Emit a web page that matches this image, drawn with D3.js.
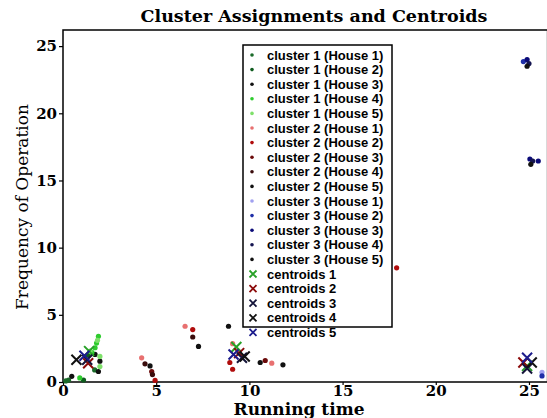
<!DOCTYPE html>
<html>
<head>
<meta charset="utf-8">
<script src="https://cdn.jsdelivr.net/npm/d3@7"></script>
<style>
  body { margin: 0; background: #fff; }
</style>
</head>
<body>
<div id="chart"></div>
<script>
// Tick values
const xTicks = [0, 5, 10, 15, 20, 25];
const yTicks = [0, 5, 10, 15, 20, 25];

// Cluster points per house, [running time, frequency]
const c1h1 = [[0.15, 0.08], [0.3, 0.15], [1.7, 0.9]];
const c1h2 = [[1.1, 0.15], [1.35, 2.0]];
const c1h3 = [[0.47, 0.42], [1.72, 2.05], [1.98, 1.55], [1.9, 0.78]];
const c1h4 = [[1.9, 3.4], [1.8, 2.9], [1.72, 2.55], [0.9, 0.3], [1.55, 2.2]];
const c1h5 = [[1.45, 2.3], [1.98, 1.9], [1.98, 1.15], [1.85, 3.1]];
const c2h1 = [[4.22, 1.8], [6.55, 4.15], [11.2, 1.4], [9.1, 2.85]];
const c2h2 = [[6.96, 3.9], [4.94, 0.12], [8.95, 1.45], [9.1, 0.95], [17.9, 8.5]];
const c2h3 = [[10.85, 1.6], [4.76, 0.78]];
const c2h4 = [[4.4, 1.35], [6.96, 3.35], [4.8, 0.55]];
const c2h5 = [[4.67, 1.2], [7.27, 2.65], [10.58, 1.45], [11.8, 1.28], [8.88, 4.15]];
const c3h1 = [[25.7, 0.72]];
const c3h2 = [[24.7, 23.85], [25.7, 0.45]];
const c3h3 = [[24.9, 24.0], [25.05, 16.6], [25.5, 16.45]];
const c3h4 = [[25.0, 23.7], [25.2, 16.45]];
const c3h5 = [[24.9, 23.5], [25.1, 16.2]];

// Centroids per house
const cen1 = [[1.4, 2.3], [9.3, 2.6], [24.9, 1.2]];
const cen2 = [[1.35, 1.4], [9.45, 2.15], [24.7, 1.45]];
const cen3 = [[1.3, 1.65], [9.6, 1.8], [24.9, 1.0]];
const cen4 = [[0.72, 1.65], [9.75, 1.9], [25.15, 1.45]];
const cen5 = [[1.15, 1.95], [9.15, 2.05], [24.9, 1.8]];

const clusterNames = [
  "cluster 1 (House 1)", "cluster 1 (House 2)", "cluster 1 (House 3)", "cluster 1 (House 4)", "cluster 1 (House 5)",
  "cluster 2 (House 1)", "cluster 2 (House 2)", "cluster 2 (House 3)", "cluster 2 (House 4)", "cluster 2 (House 5)",
  "cluster 3 (House 1)", "cluster 3 (House 2)", "cluster 3 (House 3)", "cluster 3 (House 4)", "cluster 3 (House 5)"
];
const clusterSeries = [c1h1, c1h2, c1h3, c1h4, c1h5, c2h1, c2h2, c2h3, c2h4, c2h5, c3h1, c3h2, c3h3, c3h4, c3h5];
const clusterColors = [
  "#1b6b2a", "#0f5c1f", "#111111", "#2ecc2e", "#7ee06a",
  "#e87070", "#b00c0c", "#6b0a0a", "#3a0c0c", "#111111",
  "#a0a0f0", "#1f2fa8", "#0a0a78", "#141450", "#111111"
];

const centroidNames = ["centroids 1", "centroids 2", "centroids 3", "centroids 4", "centroids 5"];
const centroidSeries = [cen1, cen2, cen3, cen4, cen5];
const centroidColors = ["#27a127", "#8b0a0a", "#15153a", "#111111", "#1c1c8c"];

// Dimensions
const W = 547, H = 418;
const margin = { top: 30, left: 63 };
const plotBottom = 382;

const svg = d3.select("#chart")
  .append("svg")
  .attr("width", W)
  .attr("height", H);

const x = d3.scaleLinear().domain([0, 26]).range([margin.left, 547.6]);
const y = d3.scaleLinear().domain([0, 26.2]).range([plotBottom, margin.top]);

const serif = "'DejaVu Serif', serif";

// Title
svg.append("text")
  .attr("x", 314)
  .attr("y", 22)
  .attr("text-anchor", "middle")
  .style("font-family", serif)
  .style("font-weight", "bold")
  .style("font-size", "17.5px")
  .text("Cluster Assignments and Centroids");

// Axes
const xAxis = svg.append("g")
  .attr("transform", `translate(0,${plotBottom})`)
  .call(d3.axisBottom(x).tickValues(xTicks).tickSize(3).tickPadding(0));
xAxis.select(".domain").remove();
xAxis.selectAll("text")
  .style("font-family", serif)
  .style("font-weight", "bold")
  .style("font-size", "15px");

const yAxis = svg.append("g")
  .attr("transform", `translate(${margin.left},0)`)
  .call(d3.axisLeft(y).tickValues(yTicks).tickSize(4).tickPadding(2));
yAxis.select(".domain").remove();
yAxis.selectAll("text")
  .style("font-family", serif)
  .style("font-weight", "bold")
  .style("font-size", "15px");
svg.selectAll(".tick line").attr("stroke", "#000").attr("stroke-width", 1.2);

// Plot frame
svg.append("rect")
  .attr("x", x(0))
  .attr("y", y(26.2))
  .attr("width", x(26) - x(0))
  .attr("height", y(0) - y(26.2))
  .attr("fill", "none")
  .attr("stroke", "#000")
  .attr("stroke-width", 1.5);

// Axis labels
svg.append("text")
  .attr("x", 299)
  .attr("y", 415)
  .attr("text-anchor", "middle")
  .style("font-family", serif)
  .style("font-weight", "bold")
  .style("font-size", "17px")
  .text("Running time");

svg.append("text")
  .attr("transform", "rotate(-90)")
  .attr("x", -207)
  .attr("y", 28)
  .attr("text-anchor", "middle")
  .style("font-family", serif)
  .style("font-size", "17px")
  .text("Frequency of Operation");

// Cluster points
clusterSeries.forEach((pts, i) => {
  svg.append("g")
    .selectAll("circle")
    .data(pts)
    .enter().append("circle")
    .attr("cx", d => x(d[0]))
    .attr("cy", d => y(d[1]))
    .attr("r", 2.6)
    .attr("fill", clusterColors[i]);
});

// Centroid markers
const xMark = (cx, cy, s) => `M${cx - s},${cy - s}L${cx + s},${cy + s}M${cx - s},${cy + s}L${cx + s},${cy - s}`;
centroidSeries.forEach((pts, i) => {
  svg.append("g")
    .selectAll("path")
    .data(pts)
    .enter().append("path")
    .attr("d", d => xMark(x(d[0]), y(d[1]), 5))
    .attr("stroke", centroidColors[i])
    .attr("stroke-width", 2)
    .attr("fill", "none");
});

// Legend
const legend = svg.append("g");
legend.append("rect")
  .attr("x", 243)
  .attr("y", 45)
  .attr("width", 149)
  .attr("height", 282)
  .attr("fill", "#fff")
  .attr("stroke", "#000")
  .attr("stroke-width", 1.5);

const rowY = i => 55 + i * 14.6;
const legendFont = "'Liberation Sans', Arial, sans-serif";

clusterNames.forEach((name, i) => {
  legend.append("circle")
    .attr("cx", 252)
    .attr("cy", rowY(i))
    .attr("r", 1.8)
    .attr("fill", clusterColors[i]);
  legend.append("text")
    .attr("x", 267)
    .attr("y", rowY(i))
    .attr("dy", "0.35em")
    .style("font-family", legendFont)
    .style("font-weight", "bold")
    .style("font-size", "13px")
    .text(name);
});

centroidNames.forEach((name, j) => {
  const i = clusterNames.length + j;
  legend.append("path")
    .attr("d", xMark(253, rowY(i), 3.5))
    .attr("stroke", centroidColors[j])
    .attr("stroke-width", 1.8)
    .attr("fill", "none");
  legend.append("text")
    .attr("x", 267)
    .attr("y", rowY(i))
    .attr("dy", "0.35em")
    .style("font-family", legendFont)
    .style("font-weight", "bold")
    .style("font-size", "13px")
    .text(name);
});
</script>
</body>
</html>
